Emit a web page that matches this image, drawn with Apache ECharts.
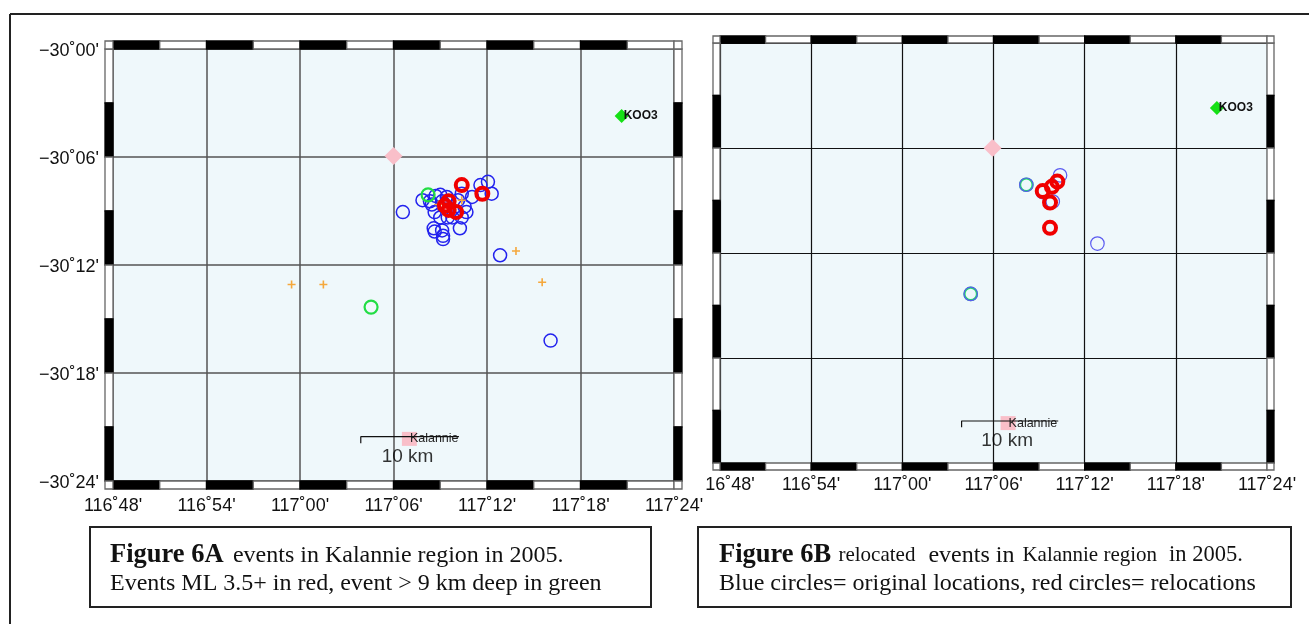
<!DOCTYPE html>
<html>
<head>
<meta charset="utf-8">
<style>html,body{margin:0;padding:0;background:#fff}#c{width:1309px;height:624px}</style>
<script src="https://cdn.jsdelivr.net/npm/echarts@6/dist/echarts.min.js"></script>
</head>
<body>
<div id="c"></div>
<script>
const xTickLabels = ["116˚48'","116˚54'","117˚00'","117˚06'","117˚12'","117˚18'","117˚24'"];
const yTickLabels = ["−30˚24'","−30˚18'","−30˚12'","−30˚06'","−30˚00'"];
const lonEdges = [116.8,116.85,116.9,116.95,117.0,117.05,117.1,117.15,117.2,117.25,117.3,117.35,117.4];
const latEdges = [-30.0,-30.05,-30.1,-30.15,-30.2,-30.25,-30.3,-30.35,-30.4];

const aBlue = [[117.110,-30.151],[117.131,-30.140],[117.145,-30.136],[117.157,-30.137],[117.150,-30.135],[117.141,-30.144],[117.139,-30.141],[117.152,-30.141],[117.169,-30.140],[117.176,-30.146],[117.173,-30.134],[117.184,-30.137],[117.193,-30.126],[117.201,-30.123],[117.205,-30.134],[117.171,-30.166],[117.143,-30.166],[117.144,-30.169],[117.152,-30.168],[117.153,-30.173],[117.153,-30.176],[117.150,-30.156],[117.158,-30.156],[117.173,-30.156],[117.144,-30.151],[117.163,-30.156],[117.178,-30.151],[117.154,-30.146],[117.214,-30.191],[117.268,-30.270]];
const aRed = [[117.173,-30.126],[117.195,-30.134],[117.159,-30.141],[117.159,-30.149],[117.167,-30.151],[117.155,-30.145]];
const aGreen = [[117.137,-30.135],[117.076,-30.239]];
const aOrange = [[117.148,-30.144],[117.173,-30.140],[116.991,-30.218],[117.025,-30.218],[117.231,-30.187],[117.259,-30.216]];
const aStation = [117.344,-30.062];
const aDiamond = [117.100,-30.099];
const aTown = [117.117,-30.361];
const aScale = [[117.065,-30.365],[117.065,-30.359],[117.170,-30.359]];
const aScaleLabel = [117.115,-30.378];

const bBlue = [[117.173,-30.126],[117.136,-30.135],[117.154,-30.142],[117.165,-30.151],[117.214,-30.191],[117.075,-30.239]];
const bGreen = [[117.136,-30.135],[117.075,-30.239]];
const bRed = [[117.170,-30.132],[117.164,-30.137],[117.154,-30.141],[117.162,-30.152],[117.162,-30.176]];
const bStation = [117.345,-30.062];
const bDiamond = [117.099,-30.100];
const bTown = [117.116,-30.362];
const bScale = [[117.065,-30.366],[117.065,-30.360],[117.171,-30.360]];
const bScaleLabel = [117.115,-30.379];

const plusPath = 'path://M4 0h2v4h4v2h-4v4h-2v-4h-4v-2h4z';
const SANS = '"Liberation Sans",Arial,sans-serif';
const SERIF = '"Liberation Serif","Times New Roman",serif';

function frameData(){
  const d = [];
  for(let i=0;i<lonEdges.length-1;i++){
    const blk = i%2===0?1:0;
    d.push([0,lonEdges[i],lonEdges[i+1],blk]);
    d.push([1,lonEdges[i],lonEdges[i+1],blk]);
  }
  for(let i=0;i<latEdges.length-1;i++){
    const blk = i%2===1?1:0;
    d.push([2,latEdges[i],latEdges[i+1],blk]);
    d.push([3,latEdges[i],latEdges[i+1],blk]);
  }
  d.push([4,116.8,-30.0,0],[5,117.4,-30.0,0],[6,116.8,-30.4,0],[7,117.4,-30.4,0]);
  return d;
}
function frameSeries(idx,w){
  return {
    type:'custom',xAxisIndex:idx,yAxisIndex:idx,clip:false,silent:true,z:6,
    data:frameData(),
    renderItem(params,api){
      const s=api.value(0),a=api.value(1),b=api.value(2),blk=api.value(3);
      let x,y,wd,h;
      if(s<=1){
        const lat=s===0?-30.0:-30.4;
        const p1=api.coord([a,lat]),p2=api.coord([b,lat]);
        x=p1[0];wd=p2[0]-p1[0];h=w;y=s===0?p1[1]-w:p1[1];
      }else if(s<=3){
        const lon=s===2?116.8:117.4;
        const p1=api.coord([lon,a]),p2=api.coord([lon,b]);
        y=p1[1];h=p2[1]-p1[1];wd=w;x=s===2?p1[0]-w:p1[0];
      }else{
        const p=api.coord([a,b]);
        x=(s===4||s===6)?p[0]-w:p[0];
        y=(s===4||s===5)?p[1]-w:p[1];
        wd=w;h=w;
      }
      return {type:'rect',shape:{x,y,width:wd,height:h},
        style:{fill:blk?'#000':'#fff',stroke:blk?'#000':'#666',lineWidth:1.3}};
    }
  };
}
function ring(idx,data,size,color,bw,z){
  return {type:'scatter',xAxisIndex:idx,yAxisIndex:idx,data,symbol:'circle',symbolSize:size,z,silent:true,
    itemStyle:{color:'transparent',borderColor:color,borderWidth:bw,opacity:1}};
}
function markers(idx,station,diamond,town,scale,scaleLabel){
  return [
    {type:'scatter',xAxisIndex:idx,yAxisIndex:idx,z:7,silent:true,data:[{value:station,name:'KOO3'}],symbol:'diamond',symbolSize:14,
      itemStyle:{color:'#16e016',opacity:1},
      label:{show:true,position:'right',distance:-5,formatter:'{b}',fontFamily:SANS,fontSize:12,fontWeight:'bold',color:'#111'}},
    {type:'scatter',xAxisIndex:idx,yAxisIndex:idx,z:4,silent:true,data:[diamond],symbol:'diamond',symbolSize:18,itemStyle:{color:'#f9bfc9',opacity:1}},
    {type:'scatter',xAxisIndex:idx,yAxisIndex:idx,z:4,silent:true,data:[{value:town,name:'Kalannie'}],symbol:'rect',symbolSize:[15,14],
      itemStyle:{color:'#f9bfc9',opacity:1},
      label:{show:true,position:'right',distance:-7,formatter:'{b}',fontFamily:SANS,fontSize:12.5,color:'#222'}},
    {type:'line',xAxisIndex:idx,yAxisIndex:idx,z:5,silent:true,data:scale,symbol:'none',lineStyle:{color:'#111',width:1.2}},
    {type:'scatter',xAxisIndex:idx,yAxisIndex:idx,z:5,silent:true,data:[{value:scaleLabel,name:'10 km'}],symbol:'circle',symbolSize:1,
      itemStyle:{color:'transparent'},
      label:{show:true,position:'inside',formatter:'{b}',fontFamily:SANS,fontSize:19,color:'#000',fontWeight:'normal',textBorderWidth:0}}
  ];
}
function xAxis(idx,lineColor,lineW,margin,labels){
  return {type:'value',gridIndex:idx,min:116.8,max:117.4,interval:0.1,
    axisLine:{show:false},axisTick:{show:false},
    splitLine:{show:true,lineStyle:{color:lineColor,width:lineW}},
    axisLabel:{margin,fontFamily:SANS,fontSize:18,color:'#111',
      formatter:(v,i)=>labels[i],
      rich:{m:{fontFamily:SANS,fontSize:18,color:'#111',padding:[0,0,0,20]}}}};
}
function yAxis(idx,lineColor,lineW,showLabels){
  return {type:'value',gridIndex:idx,min:-30.4,max:-30.0,interval:0.1,
    axisLine:{show:false},axisTick:{show:false},
    splitLine:{show:true,lineStyle:{color:lineColor,width:lineW}},
    axisLabel:{show:showLabels,margin:14,fontFamily:SANS,fontSize:18,color:'#111',
      formatter:(v,i)=>'{y|'+yTickLabels[i]+'}',
      rich:{y:{fontFamily:SANS,fontSize:18,color:'#111',padding:[4,0,0,0]}}}};
}
const rightXLabels = xTickLabels.slice();
rightXLabels[0] = "{m|16˚48'}";

const chart = echarts.init(document.getElementById('c'),null,{renderer:'canvas'});
chart.setOption({
  animation:false,
  backgroundColor:'#fff',
  grid:[
    {left:113,top:49,width:561,height:432,show:true,backgroundColor:'#eff8fb',borderWidth:0},
    {left:720,top:43,width:547,height:420,show:true,backgroundColor:'#eff8fb',borderWidth:0}
  ],
  xAxis:[xAxis(0,'#555',1.5,16,xTickLabels),xAxis(1,'#111',1.2,13,rightXLabels)],
  yAxis:[yAxis(0,'#555',1.5,true),yAxis(1,'#111',1.2,false)],
  series:[
    ring(0,aBlue,13,'#2222ee',1.5,8),
    ring(0,aGreen,13,'#22dd44',2.2,9),
    {type:'scatter',xAxisIndex:0,yAxisIndex:0,data:aOrange,symbol:plusPath,symbolSize:8,z:10,silent:true,itemStyle:{color:'#f5a83c',opacity:1}},
    ring(0,aRed,12,'#f00000',4,11),
    ...markers(0,aStation,aDiamond,aTown,aScale,aScaleLabel),
    frameSeries(0,8),
    ring(1,bGreen,12.5,'#22dd66',2.2,8),
    ring(1,bBlue,13.5,'#5a5af0',1.2,9),
    ring(1,bRed,12,'#f00000',4,11),
    ...markers(1,bStation,bDiamond,bTown,bScale,bScaleLabel),
    frameSeries(1,7)
  ],
  graphic:[
    {type:'line',shape:{x1:10,y1:14,x2:1309,y2:14},style:{stroke:'#222',lineWidth:2}},
    {type:'line',shape:{x1:10,y1:14,x2:10,y2:624},style:{stroke:'#222',lineWidth:2}},
    {type:'rect',shape:{x:90,y:527,width:561,height:80},style:{fill:'#fff',stroke:'#222',lineWidth:2}},
    {type:'rect',shape:{x:698,y:527,width:593,height:80},style:{fill:'#fff',stroke:'#222',lineWidth:2}},
    {type:'text',x:110,y:542,style:{
      text:'{b|Figure 6A} {r|events in Kalannie region in 2005.}',
      rich:{b:{fontFamily:SERIF,fontWeight:'bold',fontSize:26.5,fill:'#111'},r:{fontFamily:SERIF,fontSize:24,fill:'#111',padding:[0,0,0,6]}}
    }},
    {type:'text',x:110,y:572,style:{text:'Events ML 3.5+ in red, event > 9 km deep in green',fontFamily:SERIF,fontSize:24,fill:'#111'}},
    {type:'text',x:719,y:542,style:{
      text:'{b|Figure 6B} {s|relocated}{e|events in}{k|Kalannie region}{f|in 2005.}',
      rich:{b:{fontFamily:SERIF,fontWeight:'bold',fontSize:26.5,fill:'#111'},e:{fontFamily:SERIF,fontSize:24,fill:'#111',padding:[0,0,0,13]},f:{fontFamily:SERIF,fontSize:22.5,fill:'#111',padding:[0,0,0,12]},s:{fontFamily:SERIF,fontSize:21,fill:'#111',padding:[0,0,0,4]},k:{fontFamily:SERIF,fontSize:21,fill:'#111',padding:[0,0,0,8]}}
    }},
    {type:'text',x:719,y:572,style:{text:'Blue circles= original locations, red circles= relocations',fontFamily:SERIF,fontSize:24,fill:'#111'}}
  ]
});
</script>
</body>
</html>
